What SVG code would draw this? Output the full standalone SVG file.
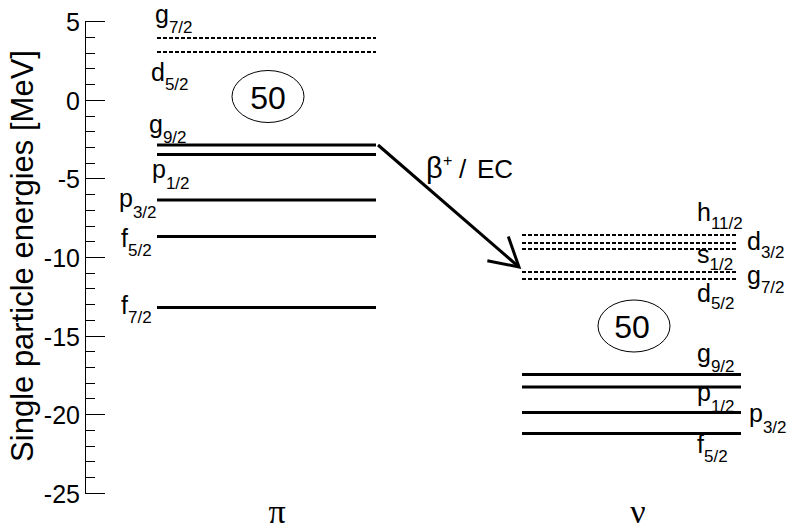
<svg xmlns="http://www.w3.org/2000/svg" width="788" height="529" viewBox="0 0 788 529">
<style>
text{font-family:"Liberation Sans",Arial,Helvetica,sans-serif;fill:#000}
.tk{font-size:25px;text-anchor:end}
.lb{font-size:25px}
.sb{font-size:17px}
.ax{stroke:#000;stroke-width:1;fill:none}
.sol{stroke:#000;stroke-width:3.2;fill:none}
.dsh{stroke:#000;stroke-width:2;stroke-dasharray:4 2;fill:none}
.ell{stroke:#000;stroke-width:1;fill:none}
.magic{font-size:32px;text-anchor:middle}
.gr{font-family:"Liberation Serif","Times New Roman",serif;font-size:34px;text-anchor:middle}
</style>
<defs>
<marker id="vhead" markerUnits="userSpaceOnUse" viewBox="-34 -20 40 40" refX="0" refY="0" markerWidth="40" markerHeight="40" orient="auto">
<path d="M-28,-16 L0,0 L-28,16" fill="none" stroke="#000" stroke-width="3" stroke-linejoin="miter"/>
</marker>
</defs>
<rect width="788" height="529" fill="#fff"/>
<g id="axis">
<path class="ax" d="M85.5,21.5V493.5
M85,21.5H105 M85,100.5H105 M85,178.5H105 M85,257.5H105 M85,336.5H105 M85,414.5H105 M85,493.5H105
M85,37.5H95 M85,53.5H95 M85,68.5H95 M85,84.5H95
M85,116.5H95 M85,131.5H95 M85,147.5H95 M85,163.5H95
M85,194.5H95 M85,210.5H95 M85,226.5H95 M85,241.5H95
M85,273.5H95 M85,288.5H95 M85,304.5H95 M85,320.5H95
M85,351.5H95 M85,367.5H95 M85,383.5H95 M85,398.5H95
M85,430.5H95 M85,446.5H95 M85,461.5H95 M85,477.5H95"/>
<text class="tk" x="80" y="30.5">5</text>
<text class="tk" x="80" y="109.5">0</text>
<text class="tk" x="80" y="187.5">-5</text>
<text class="tk" x="80" y="266.5">-10</text>
<text class="tk" x="80" y="345.5">-15</text>
<text class="tk" x="80" y="423.5">-20</text>
<text class="tk" x="80" y="502.5">-25</text>
<text x="0" y="0" font-size="31" text-anchor="middle" transform="translate(33,256) rotate(-90)">Single particle energies [MeV]</text>
</g>
<g id="proton-levels">
<g id="pi-g72"><line class="dsh" x1="157" y1="38" x2="376" y2="38"/><text class="lb" x="155" y="23">g<tspan class="sb" dy="10">7/2</tspan></text></g>
<g id="pi-d52"><line class="dsh" x1="157" y1="52" x2="376" y2="52"/><text class="lb" x="151" y="81">d<tspan class="sb" dy="9">5/2</tspan></text></g>
<g id="pi-magic"><ellipse class="ell" cx="268" cy="96.5" rx="36" ry="26"/><text class="magic" x="268" y="108.5">50</text></g>
<g id="pi-g92"><line class="sol" x1="157" y1="145" x2="376" y2="145"/><text class="lb" x="149" y="133">g<tspan class="sb" dy="10">9/2</tspan></text></g>
<g id="pi-p12"><line class="sol" x1="157" y1="154.5" x2="376" y2="154.5"/><text class="lb" x="152" y="178">p<tspan class="sb" dy="11">1/2</tspan></text></g>
<g id="pi-p32"><line class="sol" x1="157" y1="200" x2="376" y2="200"/><text class="lb" x="119" y="207">p<tspan class="sb" dy="11">3/2</tspan></text></g>
<g id="pi-f52"><line class="sol" x1="157" y1="236.5" x2="376" y2="236.5"/><text class="lb" x="121" y="247">f<tspan class="sb" dy="9">5/2</tspan></text></g>
<g id="pi-f72"><line class="sol" x1="157" y1="307.5" x2="376" y2="307.5"/><text class="lb" x="121" y="314">f<tspan class="sb" dy="9">7/2</tspan></text></g>
<text class="gr" x="277" y="523">π</text>
</g>
<g id="neutron-levels">
<g id="nu-h112"><line class="dsh" x1="522" y1="235" x2="738" y2="235"/><text class="lb" x="697" y="221">h<tspan class="sb" dy="8">11/2</tspan></text></g>
<g id="nu-d32"><line class="dsh" x1="522" y1="243" x2="738" y2="243"/><text class="lb" x="747" y="250">d<tspan class="sb" dy="8">3/2</tspan></text></g>
<g id="nu-s12"><line class="dsh" x1="522" y1="249" x2="738" y2="249"/><text class="lb" x="697" y="263">s<tspan class="sb" dy="7">1/2</tspan></text></g>
<g id="nu-g72"><line class="dsh" x1="522" y1="272" x2="738" y2="272"/><text class="lb" x="747" y="284">g<tspan class="sb" dy="9">7/2</tspan></text></g>
<g id="nu-d52"><line class="dsh" x1="522" y1="279" x2="738" y2="279"/><text class="lb" x="697" y="302">d<tspan class="sb" dy="7">5/2</tspan></text></g>
<g id="nu-magic"><ellipse class="ell" cx="634" cy="326" rx="36" ry="26"/><text class="magic" x="632" y="337.5">50</text></g>
<g id="nu-g92"><line class="sol" x1="522" y1="374.5" x2="741" y2="374.5"/><text class="lb" x="697" y="362">g<tspan class="sb" dy="10">9/2</tspan></text></g>
<g id="nu-p12"><line class="sol" x1="522" y1="387" x2="741" y2="387"/><text class="lb" x="697" y="401">p<tspan class="sb" dy="11">1/2</tspan></text></g>
<g id="nu-p32"><line class="sol" x1="522" y1="412.5" x2="741" y2="412.5"/><text class="lb" x="749" y="422">p<tspan class="sb" dy="11">3/2</tspan></text></g>
<g id="nu-f52"><line class="sol" x1="522" y1="433.5" x2="741" y2="433.5"/><text class="lb" x="697" y="453">f<tspan class="sb" dy="9">5/2</tspan></text></g>
<text class="gr" x="638" y="523">ν</text>
</g>
<g id="connectors">
<line x1="378" y1="145" x2="519" y2="267" stroke="#000" stroke-width="3" marker-end="url(#vhead)"/>
<text font-size="26" x="426" y="178"><tspan font-size="29">β</tspan><tspan font-size="16" x="443" dy="-12">+</tspan><tspan dy="12" x="459">/</tspan><tspan x="477">EC</tspan></text>
</g>
</svg>
